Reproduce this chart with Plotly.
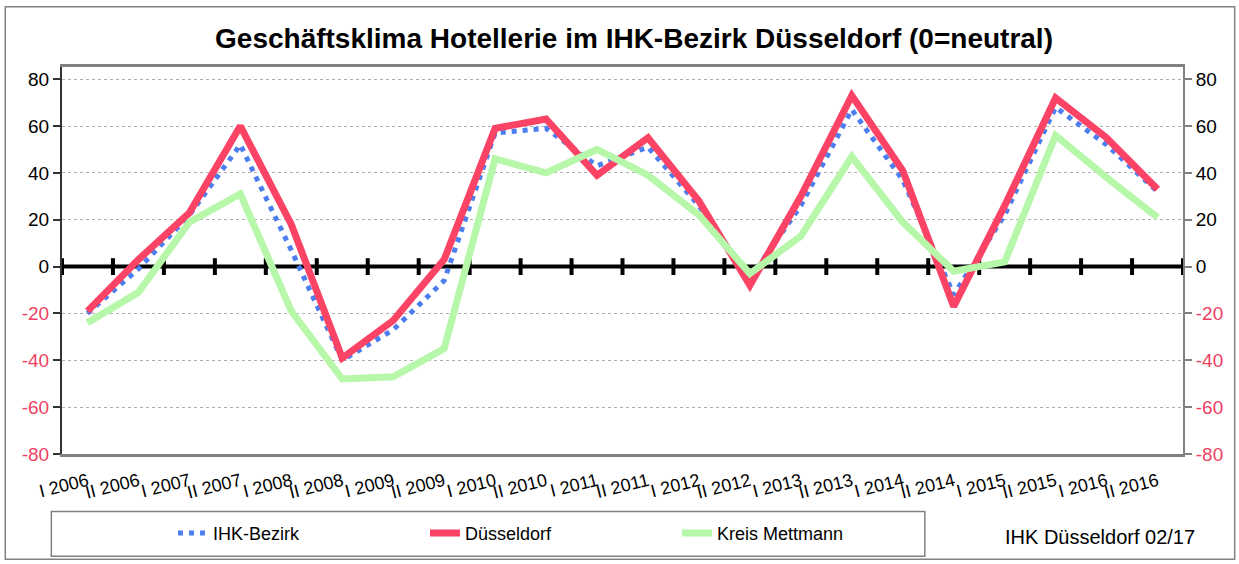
import plotly.graph_objects as go

# ---- data ----
categories = ["I 2006", "II 2006", "I 2007", "II 2007", "I 2008", "II 2008",
              "I 2009", "II 2009", "I 2010", "II 2010", "I 2011", "II 2011",
              "I 2012", "II 2012", "I 2013", "II 2013", "I 2014", "II 2014",
              "I 2015", "II 2015", "I 2016", "II 2016"]
ihk_bezirk = [-20, -1, 22, 52, 7, -40, -27, -6, 57, 59, 43, 51,
              26, -5, 26, 67, 37, -12, 22, 68, 52, 32]
duesseldorf = [-19, 3, 23, 60, 18, -39, -23, 3, 59, 63, 39, 55,
               28, -8, 30, 73, 41, -17, 26, 72, 55, 33]
kreis_mettmann = [-24, -11, 19, 31, -19, -48, -47, -35, 46, 40, 50, 39,
                  22, -3, 13, 47, 19, -2, 2, 56, 38, 21]
y_ticks = [80, 60, 40, 20, 0, -20, -40, -60, -80]

RED = "#FB4366"
BLUE = "#4C7EF0"
GREEN = "#B6F7AA"
NEG = "#EE3F62"
FONT = "Liberation Sans, Arial, sans-serif"

x = list(range(len(categories)))
boundaries = [i - 0.5 for i in range(len(categories) + 1)]
tick_text = [(f'<span style="color:{NEG}">{v}</span>' if v < 0 else str(v)) for v in y_ticks]

fig = go.Figure()

# zero line with category separators
fig.add_trace(go.Scatter(
    x=boundaries, y=[0] * len(boundaries), mode="lines+markers",
    line=dict(color="black", width=4),
    marker=dict(symbol="line-ns", size=12, line=dict(color="black", width=4)),
    showlegend=False, hoverinfo="skip"))

fig.add_trace(go.Scatter(x=x, y=ihk_bezirk, mode="lines", name="IHK-Bezirk",
                         line=dict(color=BLUE, width=5, dash="5px,6px")))
fig.add_trace(go.Scatter(x=x, y=duesseldorf, mode="lines", name="Düsseldorf",
                         line=dict(color=RED, width=7)))
fig.add_trace(go.Scatter(x=x, y=kreis_mettmann, mode="lines", name="Kreis Mettmann",
                         line=dict(color=GREEN, width=7)))
# invisible trace to carry the right-hand axis
fig.add_trace(go.Scatter(x=x, y=kreis_mettmann, mode="lines", yaxis="y2",
                         line=dict(width=0), opacity=0, showlegend=False,
                         hoverinfo="skip"))

yrange = [-80, 85.2]
fig.update_layout(
    width=1239, height=564,
    margin=dict(l=62, r=56, t=67, b=107),
    paper_bgcolor="white", plot_bgcolor="white",
    font=dict(family=FONT, color="black"),
    title=dict(text="Geschäftsklima Hotellerie im IHK-Bezirk Düsseldorf (0=neutral)",
               x=634 / 1239, xanchor="center", y=1 - 38 / 564, yanchor="middle",
               font=dict(size=28, family=FONT, color="black", weight="bold")),
    xaxis=dict(range=[-0.5, len(categories) - 0.5], tickvals=x, ticktext=categories,
               tickangle=-14, tickfont=dict(size=18, family=FONT), ticks="",
               ticklabelstandoff=7,
               showgrid=False, zeroline=False, showline=True, mirror=True,
               linecolor="#808080", linewidth=3),
    yaxis=dict(range=yrange, tickvals=y_ticks, ticktext=tick_text,
               tickfont=dict(size=19, family=FONT), ticks="outside", ticklen=7,
               tickcolor="#333", tickwidth=2,
               showgrid=True, gridcolor="#b0b0b0", griddash="dot", gridwidth=1,
               zeroline=False, showline=True, linecolor="#333", linewidth=2),
    yaxis2=dict(range=yrange, tickvals=y_ticks, ticktext=tick_text, overlaying="y",
                side="right", tickfont=dict(size=19, family=FONT), ticks="outside",
                ticklen=7, tickcolor="#808080", tickwidth=2, showgrid=False,
                zeroline=False, showline=True, linecolor="#808080", linewidth=2),
    legend=dict(orientation="h", x=0.099, xanchor="left", y=-0.205, yanchor="middle",
                entrywidth=207, entrywidthmode="pixels", font=dict(size=18, family=FONT),
                bgcolor="rgba(0,0,0,0)", borderwidth=0),
    showlegend=True,
)

# legend frame and outer chart frame
fig.add_shape(type="rect", xref="paper", yref="paper",
              x0=-0.0095, x1=0.7697, y0=-0.2639, y1=-0.1486,
              line=dict(color="#808080", width=1.5))
fig.add_shape(type="rect", xref="paper", yref="paper",
              x0=-0.0506, x1=1.0461, y0=-0.2717, y1=1.1555,
              line=dict(color="#808080", width=1.5))

fig.add_annotation(text="IHK Düsseldorf 02/17", xref="paper", yref="paper",
                   x=0.926, y=-0.215, xanchor="center", yanchor="middle",
                   showarrow=False, font=dict(size=20, family=FONT, color="black"))

fig.write_html("out.html", config={"displayModeBar": False},
               post_script="document.body.style.margin='0';")
